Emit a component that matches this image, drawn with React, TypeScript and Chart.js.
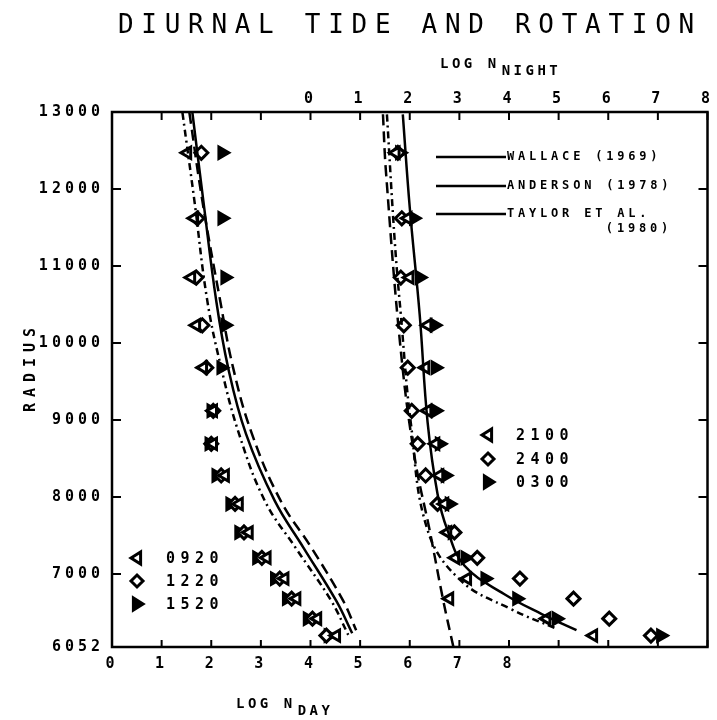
import React, { useEffect, useRef } from 'react';
import { Chart, registerables } from 'chart.js';

Chart.register(...registerables);

const FONT = "'DejaVu Sans Mono', monospace";

const chartTitle = 'DIURNAL TIDE AND ROTATION';
const yAxisTitle = 'RADIUS';
const dayAxisMain = 'LOG N';
const dayAxisSub = 'DAY';
const nightAxisMain = 'LOG N';
const nightAxisSub = 'NIGHT';

// tick values / labels
const yTicks = [6052, 7000, 8000, 9000, 10000, 11000, 12000, 13000];
const dayTicks = [0, 1, 2, 3, 4, 5, 6, 7, 8, 9, 10, 11, 12];
const dayTickLabels = ['0', '1', '2', '3', '4', '5', '6', '7', '8', '', '', '', ''];
const nightTicks = [-4, -3, -2, -1, 0, 1, 2, 3, 4, 5, 6, 7, 8];
const nightTickLabels = ['', '', '', '', '0', '1', '2', '3', '4', '5', '6', '7', '8'];

// radius levels (km) of the observations
const radiusLevels = [12470, 11620, 10850, 10230, 9680, 9120, 8690, 8280, 7910, 7540, 7210, 6940, 6680, 6420, 6200];

// day side observations: log N_day
const dayTimes = ['0920', '1220', '1520'];
const day0920 = [1.52, 1.66, 1.60, 1.70, 1.84, 2.04, 2.04, 2.28, 2.56, 2.76, 3.12, 3.48, 3.72, 4.14, 4.52];
const day1220 = [1.80, 1.72, 1.70, 1.82, 1.90, 2.04, 2.00, 2.20, 2.48, 2.66, 3.02, 3.38, 3.62, 4.04, 4.32];
const day1520 = [2.22, 2.22, 2.28, 2.28, 2.20, 2.00, 1.96, 2.10, 2.38, 2.56, 2.92, 3.28, 3.52, 3.94, 4.36];

// night side observations: log N_night
const nightTimes = ['2100', '2400', '0300'];
const night2100 = [1.72, 1.96, 2.00, 2.36, 2.32, 2.36, 2.52, 2.60, 2.70, 2.76, 2.92, 3.16, 2.80, 4.76, 5.70];
const night2400 = [1.76, 1.84, 1.82, 1.88, 1.96, 2.04, 2.16, 2.32, 2.56, 2.90, 3.36, 4.22, 5.30, 6.02, 6.86];
const night0300 = [1.80, 2.08, 2.20, 2.50, 2.52, 2.52, 2.60, 2.72, 2.80, 2.86, 3.12, 3.52, 4.16, 4.96, 7.06];

// model curves, day side
const dayWallaceR = [12990, 11850, 10550, 9680, 8820, 7950, 7340, 6650, 6230];
const dayWallaceN = [1.62, 1.84, 2.10, 2.34, 2.70, 3.28, 3.86, 4.52, 4.84];
const dayAndersonR = [12990, 11850, 10550, 9680, 8820, 7950, 7340, 6650, 6270];
const dayAndersonN = [1.56, 1.82, 2.18, 2.44, 2.82, 3.40, 4.02, 4.66, 4.92];
const dayTaylorR = [12990, 11850, 10550, 9680, 8820, 7950, 7340, 6650, 6210];
const dayTaylorN = [1.42, 1.66, 1.92, 2.20, 2.56, 3.08, 3.70, 4.42, 4.76];

// model curves, night side
const nightWallaceR = [12970, 11760, 10370, 8970, 8040, 7570, 7110, 6740, 6480, 6270];
const nightWallaceN = [1.86, 2.00, 2.20, 2.36, 2.56, 2.76, 3.10, 3.90, 4.66, 5.36];
const nightAndersonR = [12970, 12230, 9900, 8510, 7570, 6640, 6052];
const nightAndersonN = [1.46, 1.52, 1.82, 2.10, 2.40, 2.68, 2.88];
const nightTaylorR = [12970, 11300, 10370, 8970, 7570, 6920, 6550, 6290];
const nightTaylorN = [1.54, 1.70, 1.82, 2.02, 2.36, 3.02, 4.02, 4.96];

const modelNames = ['WALLACE (1969)', 'ANDERSON (1978)', 'TAYLOR ET AL.'];
const modelNameExtra = '(1980)';

const pts = (xs: number[], ys: number[]) => xs.map((x, i) => ({ x, y: ys[i] }));

function curve(xs: number[], ys: number[], axis: string, dash: number[]) {
  return {
    data: pts(xs, ys),
    xAxisID: axis,
    showLine: true,
    borderColor: '#000',
    borderWidth: 2.5,
    borderDash: dash,
    pointRadius: 0,
    tension: 0.4,
    fill: false,
  };
}

function markers(xs: number[], axis: string, kind: 'left' | 'diamond' | 'right') {
  const base: any = {
    data: pts(xs, radiusLevels),
    xAxisID: axis,
    showLine: false,
    pointRadius: 6.5,
    borderColor: '#000',
    borderWidth: 3,
  };
  if (kind === 'left') {
    base.pointStyle = 'triangle';
    base.rotation = -90;
    base.backgroundColor = '#fff';
  } else if (kind === 'diamond') {
    base.pointStyle = 'rectRot';
    base.backgroundColor = '#fff';
  } else {
    base.pointStyle = 'triangle';
    base.rotation = 90;
    base.backgroundColor = '#000';
  }
  return base;
}

function drawMarker(ctx: CanvasRenderingContext2D, kind: string, x: number, y: number, r: number) {
  ctx.save();
  ctx.beginPath();
  if (kind === 'left') {
    ctx.moveTo(x - r, y);
    ctx.lineTo(x + r * 0.6, y - r);
    ctx.lineTo(x + r * 0.6, y + r);
  } else if (kind === 'diamond') {
    ctx.moveTo(x, y - r);
    ctx.lineTo(x + r, y);
    ctx.lineTo(x, y + r);
    ctx.lineTo(x - r, y);
  } else {
    ctx.moveTo(x + r, y);
    ctx.lineTo(x - r * 0.6, y - r);
    ctx.lineTo(x - r * 0.6, y + r);
  }
  ctx.closePath();
  ctx.fillStyle = kind === 'right' ? '#000' : '#fff';
  ctx.fill();
  ctx.lineWidth = 3;
  ctx.strokeStyle = '#000';
  ctx.stroke();
  ctx.restore();
}

function subText(ctx: CanvasRenderingContext2D, main: string, sub: string, x: number, y: number) {
  ctx.fillText(main, x, y);
  const w = ctx.measureText(main).width;
  ctx.fillText(sub, x + w + 2, y + 7);
}

const decor = {
  id: 'decor',
  beforeDraw(chart: any) {
    chart.ctx.letterSpacing = '4px';
  },
  afterDraw(chart: any) {
    const ctx: CanvasRenderingContext2D = chart.ctx;
    const a = chart.chartArea;
    ctx.save();
    ctx.strokeStyle = '#000';
    ctx.fillStyle = '#000';
    ctx.lineWidth = 2.5;
    ctx.setLineDash([]);
    ctx.strokeRect(a.left, a.top, a.right - a.left, a.bottom - a.top);

    // inward tick marks
    ctx.lineWidth = 2;
    const sx = chart.scales.x;
    const sx2 = chart.scales.x2;
    const sy = chart.scales.y;
    ctx.beginPath();
    for (const v of dayTicks) {
      const px = sx.getPixelForValue(v);
      ctx.moveTo(px, a.bottom);
      ctx.lineTo(px, a.bottom - 7);
    }
    for (const v of nightTicks) {
      const px = sx2.getPixelForValue(v);
      ctx.moveTo(px, a.top);
      ctx.lineTo(px, a.top + 8);
    }
    for (const v of yTicks) {
      const py = sy.getPixelForValue(v);
      ctx.moveTo(a.left, py);
      ctx.lineTo(a.left + 9, py);
      ctx.moveTo(a.right, py);
      ctx.lineTo(a.right - 9, py);
    }
    ctx.stroke();

    // title
    (ctx as any).letterSpacing = '7.7px';
    ctx.font = `26px ${FONT}`;
    ctx.textAlign = 'left';
    ctx.textBaseline = 'alphabetic';
    ctx.fillText(chartTitle, 118, 33);

    // axis titles
    (ctx as any).letterSpacing = '3.5px';
    ctx.font = `bold 14px ${FONT}`;
    subText(ctx, nightAxisMain, nightAxisSub, 440, 68);
    subText(ctx, dayAxisMain, dayAxisSub, 236, 708);

    ctx.save();
    (ctx as any).letterSpacing = '6px';
    ctx.font = `bold 15px ${FONT}`;
    ctx.translate(35, 367);
    ctx.rotate(-Math.PI / 2);
    ctx.textAlign = 'center';
    ctx.fillText(yAxisTitle, 0, 0);
    ctx.restore();

    // model legend
    const rows = [157, 186, 214];
    ctx.lineWidth = 2.5;
    ctx.font = `bold 12px ${FONT}`;
    (ctx as any).letterSpacing = '3.8px';
    ctx.textBaseline = 'middle';
    rows.forEach((y, i) => {
      ctx.beginPath();
      ctx.moveTo(436, y);
      ctx.lineTo(506, y);
      ctx.stroke();
      ctx.fillText(modelNames[i], 507, y);
    });
    ctx.textAlign = 'right';
    ctx.fillText(modelNameExtra, 672, 229);

    // marker legends
    ctx.textAlign = 'left';
    ctx.font = `bold 15px ${FONT}`;
    (ctx as any).letterSpacing = '5.5px';
    const kinds = ['left', 'diamond', 'right'];
    const dayRows = [558, 581, 604];
    dayRows.forEach((y, i) => {
      drawMarker(ctx, kinds[i], 137, y, 6);
      ctx.fillText(dayTimes[i], 166, y + 1);
    });
    const nightRows = [435, 459, 482];
    nightRows.forEach((y, i) => {
      drawMarker(ctx, kinds[i], 488, y, 6);
      ctx.fillText(nightTimes[i], 516, y + 1);
    });
    ctx.restore();
  },
};

const tickFont = { family: FONT, size: 15, weight: 'bold' as const };

export default function App() {
  const ref = useRef<HTMLCanvasElement>(null);
  useEffect(() => {
    const chart = new Chart(ref.current as HTMLCanvasElement, {
      type: 'scatter',
      data: {
        datasets: [
          curve(dayWallaceN, dayWallaceR, 'x', []),
          curve(dayAndersonN, dayAndersonR, 'x', [11, 6]),
          curve(dayTaylorN, dayTaylorR, 'x', [7, 4, 2, 4]),
          curve(nightWallaceN, nightWallaceR, 'x2', []),
          curve(nightAndersonN, nightAndersonR, 'x2', [11, 6]),
          curve(nightTaylorN, nightTaylorR, 'x2', [7, 4, 2, 4]),
          markers(day0920, 'x', 'left'),
          markers(day1220, 'x', 'diamond'),
          markers(day1520, 'x', 'right'),
          markers(night2100, 'x2', 'left'),
          markers(night2400, 'x2', 'diamond'),
          markers(night0300, 'x2', 'right'),
        ] as any,
      },
      options: {
        animation: false,
        responsive: false,
        devicePixelRatio: 1,
        layout: { padding: { top: 80, right: 5, bottom: 0, left: 0 } },
        plugins: { legend: { display: false }, tooltip: { enabled: false }, title: { display: false } },
        scales: {
          x: {
            type: 'linear',
            position: 'bottom',
            min: 0,
            max: 12,
            afterBuildTicks: (s: any) => { s.ticks = dayTicks.map((v) => ({ value: v })); },
            afterFit: (s: any) => { s.height = 73; },
            ticks: {
              autoSkip: false,
              maxRotation: 0,
              padding: 8,
              color: '#000',
              font: tickFont,
              callback: (_v: any, i: number) => dayTickLabels[i],
            },
            grid: { display: false, drawTicks: false },
            border: { display: false },
          },
          x2: {
            type: 'linear',
            position: 'top',
            min: -4,
            max: 8,
            afterBuildTicks: (s: any) => { s.ticks = nightTicks.map((v) => ({ value: v })); },
            afterFit: (s: any) => { s.height = 32; },
            ticks: {
              autoSkip: false,
              maxRotation: 0,
              padding: 4,
              color: '#000',
              font: tickFont,
              callback: (_v: any, i: number) => nightTickLabels[i],
            },
            grid: { display: false, drawTicks: false },
            border: { display: false },
          },
          y: {
            type: 'linear',
            min: 6052,
            max: 13000,
            afterBuildTicks: (s: any) => { s.ticks = yTicks.map((v) => ({ value: v })); },
            afterFit: (s: any) => { s.width = 112; },
            ticks: {
              autoSkip: false,
              padding: 8,
              color: '#000',
              font: tickFont,
              callback: (v: any) => String(v),
            },
            grid: { display: false, drawTicks: false },
            border: { display: false },
          },
        },
      } as any,
      plugins: [decor],
    });
    return () => chart.destroy();
  }, []);
  return (
    <div style={{ position: 'absolute', left: 0, top: 0, width: 717, height: 720, background: '#fff' }}>
      <canvas ref={ref} width={717} height={720} style={{ display: 'block', width: 717, height: 720 }} />
    </div>
  );
}
